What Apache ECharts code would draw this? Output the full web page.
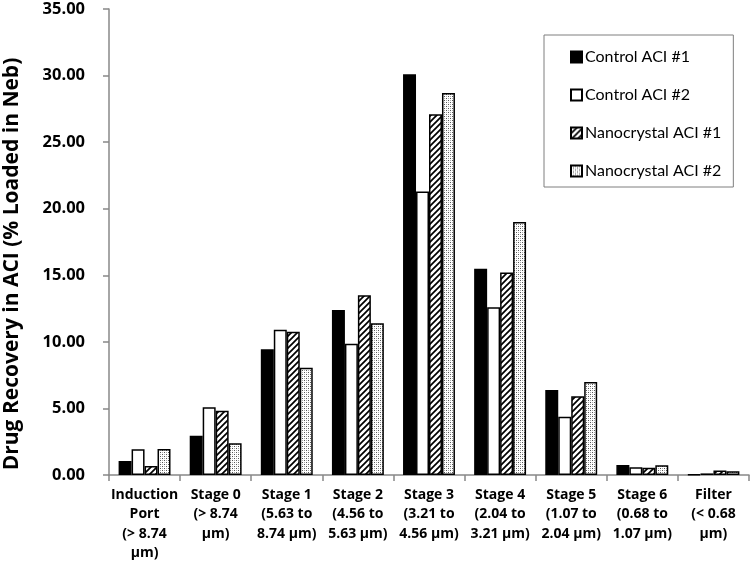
<!DOCTYPE html>
<html><head><meta charset="utf-8">
<script src="https://cdn.jsdelivr.net/npm/echarts@6/dist/echarts.min.js"></script>
<style>html,body{margin:0;padding:0;background:#fff}#c{width:750px;height:561px}</style>
</head><body><div id="c"></div>
<script>
const categories = [
  'Induction\nPort\n(> 8.74\nµm)',
  'Stage 0\n(> 8.74\nµm)',
  'Stage 1\n(5.63 to\n8.74 µm)',
  'Stage 2\n(4.56 to\n5.63 µm)',
  'Stage 3\n(3.21 to\n4.56 µm)',
  'Stage 4\n(2.04 to\n3.21 µm)',
  'Stage 5\n(1.07 to\n2.04 µm)',
  'Stage 6\n(0.68 to\n1.07 µm)',
  'Filter\n(< 0.68\nµm)'
];
const seriesNames = ['Control ACI #1', 'Control ACI #2', 'Nanocrystal ACI #1', 'Nanocrystal ACI #2'];
const controlACI1 = [1.05, 2.95, 9.45, 12.4, 30.1, 15.5, 6.38, 0.75, 0.05];
const controlACI2 = [1.93, 5.08, 10.9, 9.85, 21.3, 12.6, 4.38, 0.58, 0.12];
const nanoACI1    = [0.68, 4.82, 10.75, 13.5, 27.1, 15.2, 5.92, 0.55, 0.33];
const nanoACI2    = [1.95, 2.38, 8.05, 11.4, 28.7, 19.0, 6.98, 0.73, 0.28];
const yMin = 0, yMax = 35, yStep = 5;

function hatchPattern() {
  const c = document.createElement('canvas');
  c.width = 6; c.height = 6;
  const g = c.getContext('2d');
  g.fillStyle = '#fff'; g.fillRect(0, 0, 6, 6);
  g.strokeStyle = '#000'; g.lineWidth = 1.7;
  g.beginPath();
  g.moveTo(-1, 7); g.lineTo(7, -1);
  g.moveTo(-4, 4); g.lineTo(4, -4);
  g.moveTo(2, 10); g.lineTo(10, 2);
  g.stroke();
  return c;
}
function dotPattern() {
  const c = document.createElement('canvas');
  c.width = 4; c.height = 4;
  const g = c.getContext('2d');
  g.fillStyle = '#fff'; g.fillRect(0, 0, 4, 4);
  g.fillStyle = '#555';
  g.fillRect(0, 0, 1, 1); g.fillRect(2, 2, 1, 1);
  g.fillStyle = '#aaa';
  g.fillRect(2, 0, 1, 1); g.fillRect(0, 2, 1, 1);
  return c;
}

const fills = [
  '#000',
  '#fff',
  { image: hatchPattern(), repeat: 'repeat' },
  { image: dotPattern(), repeat: 'repeat' }
];
const datasets = [controlACI1, controlACI2, nanoACI1, nanoACI2];
const font = 'Lato, "Liberation Sans", sans-serif';
const boldFont = '"Open Sans", "Liberation Sans", sans-serif';

const chart = echarts.init(document.getElementById('c'), null, { renderer: 'canvas' });
chart.setOption({
  animation: false,
  backgroundColor: '#fff',
  grid: { left: 109, right: 1, top: 9, bottom: 86, containLabel: false, outerBoundsMode: 'none' },
  legend: {
    orient: 'vertical',
    left: 544, top: 35,
    width: 186,
    padding: [14, 12, 8, 26],
    itemGap: 22,
    itemWidth: 11, itemHeight: 11,
    icon: 'rect',
    borderColor: '#7f7f7f', borderWidth: 1,
    textStyle: { fontFamily: font, fontSize: 16, color: '#000', padding: [0, 0, 0, -2] },
    data: seriesNames
  },
  xAxis: {
    type: 'category',
    data: categories,
    axisLine: { lineStyle: { color: '#888', width: 1.5 } },
    axisTick: { show: true, alignWithLabel: false, length: 6, lineStyle: { color: '#888', width: 1.5 } },
    axisLabel: { interval: 0, margin: 10, fontFamily: boldFont, fontWeight: 'bold', fontSize: 14, lineHeight: 19.5, color: '#000' }
  },
  yAxis: {
    type: 'value',
    min: yMin, max: yMax, interval: yStep,
    splitLine: { show: false },
    axisLine: { show: true, lineStyle: { color: '#888', width: 1.5 } },
    axisTick: { show: true, inside: false, length: 6, lineStyle: { color: '#888', width: 1.5 } },
    axisLabel: { margin: 24, fontFamily: boldFont, fontWeight: 'bold', fontSize: 16.5, color: '#000',
      formatter: v => v.toFixed(2) }
  },
  graphic: [{
    type: 'text', x: 12, y: 264, rotation: Math.PI / 2,
    style: { text: 'Drug Recovery in ACI (% Loaded in Neb)', font: 'bold 21px ' + boldFont,
      fill: '#000', textAlign: 'center', textVerticalAlign: 'middle' }
  }],
  series: datasets.map((d, i) => ({
    name: seriesNames[i],
    type: 'bar',
    data: d,
    barGap: '0%',
    barCategoryGap: '27%',
    itemStyle: { color: fills[i], borderColor: '#000', borderWidth: 1.5 }
  }))
});
</script></body></html>
